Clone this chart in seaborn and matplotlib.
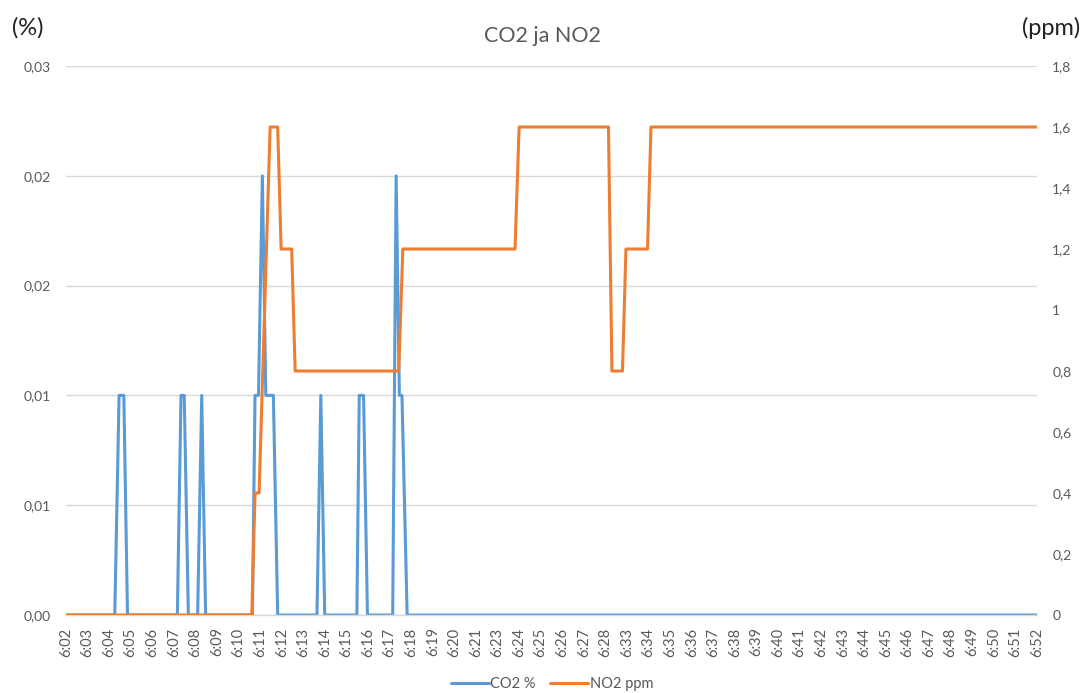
import matplotlib
matplotlib.use("Agg")
import matplotlib.pyplot as plt
import seaborn as sns
import pandas as pd

# x tick labels (category axis, one label per slot)
time_labels = ["6:02", "6:03", "6:04", "6:05", "6:06", "6:07", "6:08", "6:09", "6:10",
               "6:11", "6:12", "6:13", "6:14", "6:15", "6:16", "6:17", "6:18", "6:19",
               "6:20", "6:21", "6:23", "6:24", "6:25", "6:26", "6:27", "6:28", "6:33",
               "6:34", "6:35", "6:36", "6:37", "6:38", "6:39", "6:40", "6:41", "6:42",
               "6:43", "6:44", "6:45", "6:46", "6:47", "6:48", "6:49", "6:50", "6:51",
               "6:52"]

# CO2 series: break points (position in label slots, value %)
co2_pos = [0, 2.26, 2.46, 2.68, 2.85, 5.16, 5.33, 5.48, 5.67, 6.10, 6.29, 6.47,
           8.64, 8.76, 8.92, 9.10, 9.26, 9.61, 9.81, 11.63, 11.81, 11.99,
           13.48, 13.59, 13.79, 13.97, 15.14, 15.30, 15.45, 15.57, 15.81, 45]
co2_pct = [0, 0, 0.01, 0.01, 0, 0, 0.01, 0.01, 0, 0, 0.01, 0,
           0, 0.01, 0.01, 0.02, 0.01, 0.01, 0, 0, 0.01, 0,
           0, 0.01, 0.01, 0, 0, 0.02, 0.01, 0.01, 0, 0]

# NO2 series: break points (position in label slots, value ppm)
no2_pos = [0, 8.61, 8.76, 8.95, 9.46, 9.81, 9.97, 10.46, 10.62, 15.42, 15.61,
           20.81, 21.0, 25.14, 25.30, 25.79, 25.95, 26.95, 27.11, 45]
no2_ppm = [0, 0, 0.4, 0.4, 1.6, 1.6, 1.2, 1.2, 0.8, 0.8, 1.2,
           1.2, 1.6, 1.6, 0.8, 0.8, 1.2, 1.2, 1.6, 1.6]

left_ticks = [0, 0.005, 0.01, 0.015, 0.02, 0.025]
left_tick_labels = ["0,00", "0,01", "0,01", "0,02", "0,02", "0,03"]
right_ticks = [0, 0.2, 0.4, 0.6, 0.8, 1.0, 1.2, 1.4, 1.6, 1.8]

co2 = pd.DataFrame({"pos": co2_pos, "val": co2_pct})
no2 = pd.DataFrame({"pos": no2_pos, "val": no2_ppm})

sns.set_theme(style="white")
plt.rcParams["font.family"] = ["Lato", "DejaVu Sans"]

BLUE = "#5B9BD5"
ORANGE = "#ED7D31"
GREY = "#595959"
GRID = "#D9D9D9"

fig = plt.figure(figsize=(10.89, 6.93), dpi=100)
ax = fig.add_axes([66 / 1089, 1 - 615 / 693, (1037 - 66) / 1089, (615 - 66) / 693])
ax2 = ax.twinx()

sns.lineplot(data=co2, x="pos", y="val", ax=ax, color=BLUE, linewidth=2.2,
             estimator=None, sort=False, label="CO2 %", legend=False)
sns.lineplot(data=no2, x="pos", y="val", ax=ax2, color=ORANGE, linewidth=2.2,
             estimator=None, sort=False, label="NO2 ppm", legend=False)

ax.set_xlim(0, len(time_labels) - 1)
ax.set_ylim(0, 0.025)
ax2.set_ylim(0, 1.8)

ax.set_xticks(range(len(time_labels)))
ax.set_xticklabels(time_labels, rotation=90)
ax.set_yticks(left_ticks)
ax.set_yticklabels(left_tick_labels)
ax2.set_yticks(right_ticks)
ax2.set_yticklabels([f"{v:g}".replace(".", ",") for v in right_ticks])

ax.tick_params(axis="x", length=0, pad=9, labelsize=10.5, colors=GREY)
ax.tick_params(axis="y", length=0, pad=11, labelsize=10, colors=GREY)
ax2.tick_params(axis="y", length=0, pad=11, labelsize=10, colors=GREY)

ax.set_xlabel("")
ax.set_ylabel("")
ax2.set_ylabel("")

ax.yaxis.grid(True, color=GRID, linewidth=1.0)
ax.set_axisbelow(True)
for a in (ax, ax2):
    for s in a.spines.values():
        s.set_visible(False)
ax.spines["bottom"].set_visible(True)
ax.spines["bottom"].set_color(GRID)
ax.spines["bottom"].set_linewidth(1.0)

fig.text(542 / 1089, 1 - 36 / 693, "CO2 ja NO2", ha="center", va="center",
         fontsize=15.5, color=GREY)
fig.text(12 / 1089, 1 - 28 / 693, "(%)", ha="left", va="center",
         fontsize=17, color="#222222")
fig.text(1080 / 1089, 1 - 28 / 693, "(ppm)", ha="right", va="center",
         fontsize=17, color="#222222")

h1, l1 = ax.get_legend_handles_labels()
h2, l2 = ax2.get_legend_handles_labels()
fig.legend(h1 + h2, l1 + l2, loc="center", bbox_to_anchor=(552 / 1089, 1 - 684 / 693),
           ncol=2, frameon=False, fontsize=10.5, labelcolor=GREY,
           handlelength=2.6, handletextpad=0.1, columnspacing=1.0)

fig.savefig("out.png", dpi=100)
